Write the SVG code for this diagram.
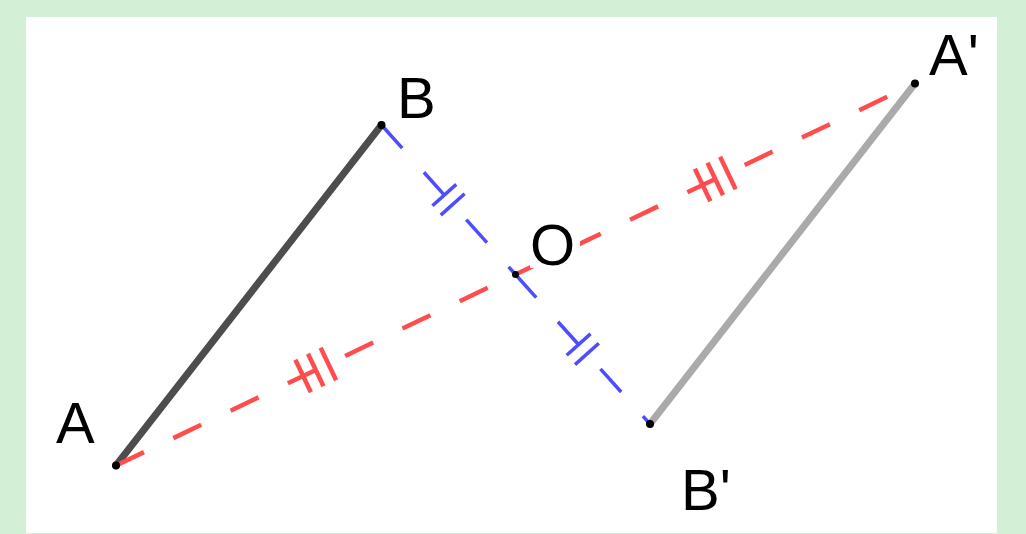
<svg xmlns="http://www.w3.org/2000/svg" width="1026" height="534" viewBox="0 0 1026 534">
  <style>
    .seg-dark { stroke: #4d4d4d; stroke-width: 7; stroke-linecap: round; fill: none; }
    .seg-light { stroke: #aaaaaa; stroke-width: 7; stroke-linecap: round; fill: none; }
    .red { stroke: #ff4d4d; stroke-width: 4.5; fill: none; }
    .blue { stroke: #4d4dff; stroke-width: 3.5; fill: none; }
    .dash { stroke-dasharray: 31 32.5; }
    .pt { fill: #000000; }
    .lbl { font-family: "Liberation Sans", Arial, sans-serif; font-size: 58px; fill: #000000; }
  </style>
  <rect x="0" y="0" width="1026" height="534" fill="#d3f0d6"/>
  <rect x="26" y="17" width="971" height="516" fill="#ffffff"/>

  <g id="connectors">
    <g id="seg-AB"><line class="seg-dark" x1="116" y1="465.5" x2="381.5" y2="125"/></g>
    <g id="seg-A1B1"><line class="seg-light" x1="915" y1="83.5" x2="650" y2="424"/></g>

    <g id="red-AO">
      <line class="red dash" x1="116" y1="465.5" x2="515.5" y2="274.5"/>
      <line class="red" x1="295.36" y1="359.8" x2="310.88" y2="392.28"/>
      <line class="red" x1="307.99" y1="353.76" x2="323.51" y2="386.24"/>
      <line class="red" x1="320.62" y1="347.72" x2="336.14" y2="380.2"/>
    </g>
    <g id="red-OA1">
      <line class="red dash" x1="515.5" y1="274.5" x2="915" y2="83.5"/>
      <line class="red" x1="694.86" y1="168.8" x2="710.38" y2="201.28"/>
      <line class="red" x1="707.49" y1="162.76" x2="723.01" y2="195.24"/>
      <line class="red" x1="720.12" y1="156.72" x2="735.64" y2="189.2"/>
    </g>
    <g id="blue-BO">
      <line class="blue dash" x1="381.5" y1="125" x2="515.5" y2="274.5"/>
      <line class="blue" x1="456.25" y1="184.42" x2="432.41" y2="205.78"/>
      <line class="blue" x1="464.59" y1="193.72" x2="440.75" y2="215.08"/>
    </g>
    <g id="blue-OB1">
      <line class="blue dash" x1="515.5" y1="274.5" x2="650" y2="424"/>
      <line class="blue" x1="590.5" y1="333.92" x2="566.66" y2="355.28"/>
      <line class="blue" x1="598.84" y1="343.22" x2="575" y2="364.58"/>
    </g>
  </g>

  <g id="node-A">
    <circle class="pt" cx="116" cy="465.5" r="4"/>
    <text class="lbl" x="56" y="442.5">A</text>
  </g>
  <g id="node-B">
    <circle class="pt" cx="381.5" cy="125" r="4"/>
    <text class="lbl" x="397" y="118">B</text>
  </g>
  <g id="node-O">
    <circle class="pt" cx="515.5" cy="274.5" r="3.5"/>
    <rect x="530" y="221" width="50" height="47" fill="#ffffff"/>
    <text class="lbl" x="530" y="264.5">O</text>
  </g>
  <g id="node-A1">
    <circle class="pt" cx="915" cy="83.5" r="4"/>
    <text class="lbl" x="929" y="75">A'</text>
  </g>
  <g id="node-B1">
    <circle class="pt" cx="650" cy="424" r="4"/>
    <text class="lbl" x="681" y="510">B'</text>
  </g>
</svg>
